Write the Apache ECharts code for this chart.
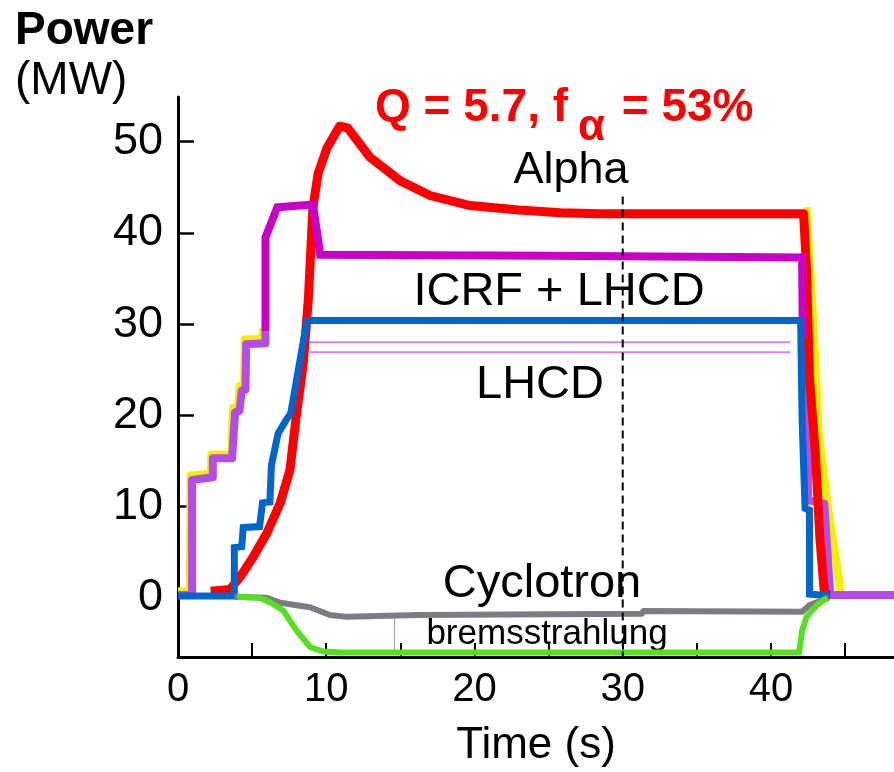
<!DOCTYPE html>
<html>
<head>
<meta charset="utf-8">
<script src="https://cdn.jsdelivr.net/npm/echarts@6/dist/echarts.min.js"></script>
<style>
html,body{margin:0;padding:0;background:#fff;}
#chart{width:894px;height:772px;}
</style>
</head>
<body>
<div id="chart"></div>
<script>
// ---- data (time in s, power in MW) ----
const xTicks = [0, 5, 10, 15, 20, 25, 30, 35, 40, 45];
const xLabels = [0, 10, 20, 30, 40];
const yTicks = [0, 10, 20, 30, 40, 50];

const yellowUp = [[0,0.7],[0.8,0.7],[0.85,13.4],[2.2,13.6],[2.25,15.7],[3.6,15.7],[3.7,20.8],[4.05,20.8],[4.15,23.2],[4.45,23.2],[4.5,28.3],[5.7,28.4],[5.75,29.6]];
const yellowDown = [[42.4,42.8],[42.75,33.4],[43.1,22.4],[43.2,18.4],[43.8,10.4],[44.5,3],[44.7,0.6]];
const icrfRampUp = [[0,0.3],[0.95,0.3],[0.95,12.9],[2.35,13.2],[2.35,15.3],[3.65,15.3],[3.85,20.3],[4.15,20.5],[4.3,22.7],[4.55,22.8],[4.6,27.8],[5.9,27.9],[5.9,29.2]];
const icrfFlat = [[5.9,29.2],[5.9,39.5],[6.7,42.8],[9.1,43.1],[9.6,37.6],[25,37.5],[42.1,37.3],[42.15,28.5]];
const icrfRampDown = [[42.15,28.5],[42.5,27.5],[42.5,10.7],[43.6,10.3],[44.0,0.3],[48.3,0.3]];
const alpha = [[2.2,0.7],[3.5,0.9],[4.2,2.3],[5.05,4.4],[6.0,7.1],[6.9,10.4],[7.55,14],[8.0,20.2],[8.45,25.7],[8.8,32.9],[9.1,42.8],[9.45,46.5],[10.05,49.3],[10.9,51.7],[11.45,51.5],[12.95,48.3],[15,45.7],[17,44.1],[19.7,43],[23,42.5],[25.8,42.2],[28.5,42.1],[42.2,42.1],[42.4,36],[42.6,24],[43.0,15.8],[43.3,6.5],[43.6,0.6],[43.9,0.3]];
const lhcd = [[0,0.2],[3.8,0.2],[3.8,5.5],[4.3,5.6],[4.4,7.7],[5.5,7.8],[5.7,10.4],[6.2,10.5],[6.3,14.5],[6.75,18],[7.3,19.5],[7.6,20.2],[8.7,30.4],[42.0,30.4],[42.1,19.5],[42.3,9.8],[42.6,9.6],[42.6,0.4],[44.0,0.2]];
const lhcdBandTop = [[8.9,28.0],[41.3,28.0]];
const lhcdBandBot = [[8.9,26.9],[41.3,26.9]];
const cyclotron = [[3.8,0.1],[6.0,0],[6.9,-0.55],[8.9,-1.05],[10.25,-1.9],[11.4,-2.1],[16.3,-1.9],[31.3,-1.75],[31.4,-1.45],[42.1,-1.55],[42.6,-0.8],[43.9,0]];
const brems = [[4.0,0.1],[5.5,0],[6.2,-0.5],[7.1,-1.4],[8.0,-3.6],[8.9,-5.4],[9.8,-5.9],[11,-6.0],[41.9,-6.0],[42.1,-3.6],[42.4,-2.1],[43.1,-0.8],[43.8,0]];
const boxEdge = [[14.6,-2.25],[14.6,-5.75]];
const t30 = [[30,44],[30,-6.5]];

const FONT = '"Liberation Sans", Arial, Helvetica, sans-serif';

function line(name, data, color, width, extra) {
  return Object.assign({
    name: name, type: 'line', data: data, showSymbol: false, symbol: 'none',
    animation: false, silent: true,
    lineStyle: { color: color, width: width, join: 'round', cap: 'butt' }
  }, extra || {});
}

const chart = echarts.init(document.getElementById('chart'), null, {renderer: 'canvas'});
chart.setOption({
  backgroundColor: '#ffffff',
  animation: false,
  grid: { left: 178, top: 97, width: 716, height: 560, containLabel: false, outerBoundsMode: 'none' },
  xAxis: {
    type: 'value', min: 0, max: 48.3,
    axisLine: { onZero: false, lineStyle: { color: '#000', width: 3 } },
    axisTick: { inside: true, length: 14, lineStyle: { color: '#000', width: 2 }, customValues: xTicks },
    axisLabel: { customValues: xLabels, fontSize: 40, color: '#000', fontFamily: FONT, margin: 13 },
    splitLine: { show: false },
    name: 'Time (s)', nameLocation: 'middle', nameGap: 67,
    nameTextStyle: { fontSize: 44, color: '#000', fontFamily: FONT }
  },
  yAxis: {
    type: 'value', min: -6.5, max: 54.9,
    axisLine: { onZero: false, lineStyle: { color: '#000', width: 3 } },
    axisTick: { inside: true, length: 16, lineStyle: { color: '#000', width: 2.5 }, customValues: yTicks },
    axisLabel: { customValues: yTicks, fontSize: 45, color: '#000', fontFamily: FONT, margin: 15 },
    splitLine: { show: false }
  },
  graphic: [
    { type: 'text', left: 15, top: 8, style: { text: 'Power', font: 'bold 46px ' + FONT, fill: '#000' } },
    { type: 'text', left: 15, top: 58, style: { text: '(MW)', font: '46px ' + FONT, fill: '#000' } },
    { type: 'text', x: 375, y: 108, style: { text: 'Q = 5.7, f', font: 'bold 46px ' + FONT, fill: '#ff0000', verticalAlign: 'middle' } },
    { type: 'text', x: 578, y: 128, style: { text: 'α', font: 'bold 44px ' + FONT, fill: '#ff0000', verticalAlign: 'middle' } },
    { type: 'text', x: 609, y: 108, style: { text: ' = 53%', font: 'bold 46px ' + FONT, fill: '#ff0000', verticalAlign: 'middle' } },
    { type: 'text', x: 571, y: 171, style: { text: 'Alpha', font: '45px ' + FONT, fill: '#000', align: 'center', verticalAlign: 'middle' } },
    { type: 'text', x: 559, y: 292, style: { text: 'ICRF + LHCD', font: '47px ' + FONT, fill: '#000', align: 'center', verticalAlign: 'middle' } },
    { type: 'text', x: 540, y: 385, style: { text: 'LHCD', font: '47px ' + FONT, fill: '#000', align: 'center', verticalAlign: 'middle' } },
    { type: 'text', x: 542, y: 584, style: { text: 'Cyclotron', font: '47px ' + FONT, fill: '#000', align: 'center', verticalAlign: 'middle' } },
    { type: 'text', x: 547, y: 634, style: { text: 'bremsstrahlung', font: '35px ' + FONT, fill: '#000', align: 'center', verticalAlign: 'middle' } }
  ],
  series: [
    line('yellowUp', yellowUp, '#f2f000', 8),
    line('yellowDown', yellowDown, '#f2f000', 8),
    line('icrfRampUp', icrfRampUp, '#b44ce8', 8),
    line('icrfRampDown', icrfRampDown, '#b44ce8', 8),
    line('alpha', alpha, '#ff0000', 9),
    line('icrfFlat', icrfFlat, '#c800c8', 8, { lineStyle: { color: '#c800c8', width: 8, join: 'miter' } }),
    line('lhcdBandTop', lhcdBandTop, '#dc82f0', 2),
    line('lhcdBandBot', lhcdBandBot, '#dc82f0', 2),
    line('lhcd', lhcd, '#0066cc', 7, { lineStyle: { color: '#0066cc', width: 7, join: 'miter' } }),
    line('cyclotron', cyclotron, '#7c7c84', 6),
    line('brems', brems, '#55e020', 6),
    line('boxEdge', boxEdge, '#999999', 1),
    line('t30', t30, '#000', 2, { lineStyle: { color: '#000', width: 2, type: [8, 5] }, z: 10 })
  ]
});
</script>
</body>
</html>
